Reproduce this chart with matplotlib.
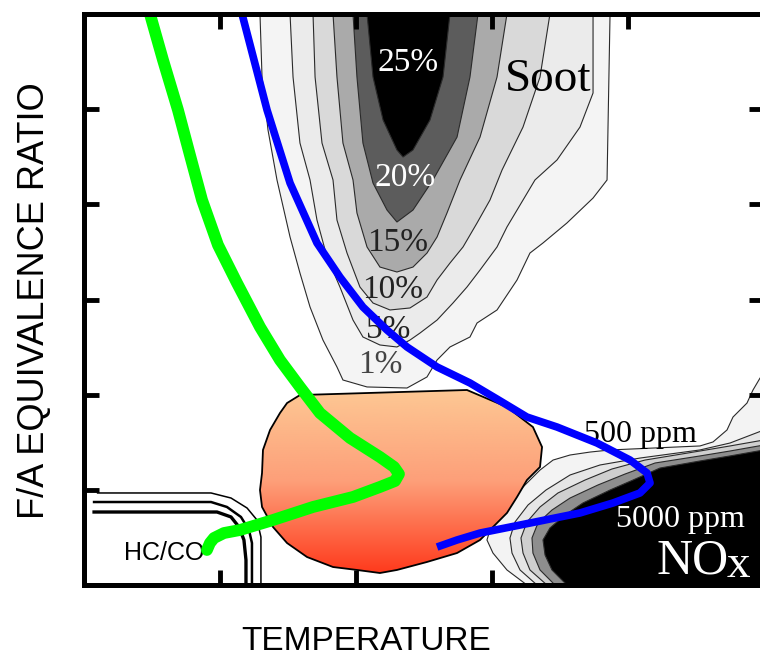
import numpy as np
import matplotlib.pyplot as plt
from matplotlib.colors import LinearSegmentedColormap
from matplotlib.patches import Polygon

# axis units: temperature 0..5, equivalence ratio 0..6 (arbitrary, no tick labels)
x_ticks = [1, 2, 3, 4]
y_ticks = [1, 2, 3, 4, 5]

# soot contours, outer (1%) to inner (25%)
soot_labels = ['1%', '5%', '10%', '15%', '20%', '25%']
soot_colors = ['#f4f4f4', '#ebebeb', '#d9d9d9', '#aaaaaa', '#5c5c5c', '#000000']
soot_x = [
    [1.294, 1.309, 1.353, 1.419, 1.515, 1.588, 1.662, 1.757, 1.860, 1.904, 2.081, 2.375,
     2.522, 2.596, 2.691, 2.838, 2.890, 3.037, 3.184, 3.279, 3.375, 3.551, 3.743, 3.846, 3.868],
    [1.515, 1.537, 1.588, 1.662, 1.713, 1.787, 1.882, 1.978, 2.051, 2.176, 2.301,
     2.397, 2.471, 2.596, 2.713, 2.816, 2.912, 3.037, 3.110, 3.228, 3.316, 3.478, 3.647, 3.743, 3.743],
    [1.684, 1.699, 1.750, 1.831, 1.860, 1.934, 2.029, 2.125, 2.250,
     2.397, 2.522, 2.596, 2.691, 2.787, 2.890, 2.985, 3.074, 3.228, 3.353, 3.426],
    [1.831, 1.860, 1.904, 1.978, 2.007, 2.081, 2.176, 2.301,
     2.419, 2.522, 2.596, 2.669, 2.765, 2.912, 3.037, 3.110],
    [1.978, 2.007, 2.051, 2.125, 2.228, 2.301, 2.419, 2.566, 2.743, 2.838, 2.897],
    [2.081, 2.125, 2.199, 2.301, 2.346, 2.419, 2.544, 2.640, 2.691],
]
soot_y = [
    [6.0, 5.338, 4.781, 4.256, 3.657, 3.278, 2.921, 2.574, 2.291, 2.154, 2.081, 2.070,
     2.186, 2.364, 2.501, 2.606, 2.753, 2.890, 3.205, 3.488, 3.594, 3.804, 4.066, 4.256, 6.0],
    [6.0, 5.338, 4.644, 4.256, 3.835, 3.446, 3.131, 2.784, 2.606, 2.522, 2.501,
     2.574, 2.648, 2.784, 2.963, 3.131, 3.310, 3.552, 3.762, 4.045, 4.256, 4.466, 4.812, 5.170, 6.0],
    [6.0, 5.338, 4.644, 4.256, 3.835, 3.488, 3.131, 2.963, 2.890,
     2.911, 3.026, 3.205, 3.383, 3.552, 3.804, 4.045, 4.361, 4.812, 5.338, 6.0],
    [6.0, 5.338, 4.644, 4.256, 3.909, 3.552, 3.341, 3.289,
     3.341, 3.488, 3.657, 3.909, 4.256, 4.707, 5.338, 6.0],
    [6.0, 5.338, 4.644, 4.224, 3.940, 3.814, 3.940, 4.256, 4.707, 5.338, 6.0],
    [6.0, 5.338, 4.886, 4.571, 4.497, 4.571, 4.886, 5.338, 6.0],
]
soot_label_x = [2.176, 2.235, 2.272, 2.309, 2.360, 2.382]
soot_label_y = [2.312, 2.679, 3.100, 3.594, 4.277, 5.485]
soot_label_colors = ['#444444', '#222222', '#222222', '#222222', 'white', 'white']

# NOx contours, outer (500 ppm) to inner (5000 ppm)
nox_colors = ['#f3f3f3', '#e6e6e6', '#cfcfcf', '#8e8e8e', '#000000']
nox_x = [
    [3.257, 3.110, 3.007, 2.963, 3.007, 3.110, 3.228, 3.353, 3.449, 3.574, 3.721, 3.868,
     4.529, 4.625, 4.728, 4.772, 4.875, 4.919, 4.971, 5.0, 5.0],
    [3.331, 3.206, 3.147, 3.132, 3.169, 3.265, 3.397, 3.574, 3.794, 4.088, 4.529, 4.750, 5.0, 5.0],
    [3.404, 3.279, 3.228, 3.213, 3.257, 3.353, 3.485, 3.684, 3.882, 4.125, 4.529, 4.750, 5.0, 5.0],
    [3.463, 3.353, 3.301, 3.294, 3.338, 3.441, 3.574, 3.779, 3.978, 4.199, 4.529, 4.750, 5.0, 5.0],
    [3.551, 3.441, 3.390, 3.375, 3.426, 3.537, 3.669, 3.868, 4.037, 4.235, 4.529, 4.750, 5.0, 5.0],
]
nox_y = [
    [0.0, 0.158, 0.336, 0.473, 0.683, 0.820, 1.030, 1.208, 1.313, 1.366, 1.397, 1.419,
     1.461, 1.503, 1.629, 1.765, 1.912, 2.049, 2.175, 2.207, 0.0],
    [0.0, 0.158, 0.336, 0.494, 0.662, 0.841, 0.998, 1.156, 1.261, 1.334, 1.419, 1.492, 1.629, 0.0],
    [0.0, 0.158, 0.336, 0.494, 0.662, 0.820, 0.967, 1.103, 1.219, 1.313, 1.408, 1.461, 1.524, 0.0],
    [0.0, 0.158, 0.336, 0.494, 0.651, 0.788, 0.914, 1.051, 1.166, 1.282, 1.356, 1.408, 1.471, 0.0],
    [0.0, 0.158, 0.315, 0.473, 0.599, 0.735, 0.862, 0.998, 1.103, 1.229, 1.303, 1.356, 1.419, 0.0],
]

# low-emission zone
blob_x = [1.588, 2.816, 3.110, 3.301, 3.368, 3.353, 3.257, 3.184, 3.110, 3.007, 2.912, 2.743, 2.522,
          2.301, 2.176, 2.007, 1.831, 1.640, 1.493, 1.390, 1.309, 1.294, 1.309, 1.316, 1.368, 1.441, 1.493]
blob_y = [1.996, 2.049, 1.870, 1.660, 1.450, 1.240, 1.103, 0.925, 0.757, 0.609, 0.473, 0.336, 0.242,
          0.158, 0.126, 0.158, 0.189, 0.294, 0.441, 0.609, 0.820, 0.998, 1.177, 1.419, 1.629, 1.807, 1.912]

# combustion paths
green_x = [0.465, 0.485, 0.581, 0.691, 0.779, 0.868, 0.985, 1.125, 1.294, 1.441, 1.588, 1.735,
           1.956, 2.176, 2.280, 2.316, 2.287, 2.176, 1.978, 1.684, 1.390, 1.147, 1.029, 0.956,
           0.926, 0.904]
green_y = [6.1, 6.0, 5.516, 4.991, 4.518, 4.045, 3.573, 3.173, 2.711, 2.364, 2.081, 1.807,
           1.545, 1.345, 1.240, 1.166, 1.093, 1.030, 0.925, 0.820, 0.683, 0.578, 0.546, 0.494,
           0.441, 0.368]
blue_x = [1.145, 1.162, 1.346, 1.515, 1.713, 1.882, 2.051, 2.228, 2.375, 2.596, 2.838, 3.037, 3.257,
          3.478, 3.772, 4.015, 4.140, 4.162, 4.088, 3.890, 3.647, 3.279, 2.912, 2.743, 2.596]
blue_y = [6.1, 6.0, 4.991, 4.224, 3.594, 3.236, 2.921, 2.679, 2.501, 2.291, 2.123, 1.954, 1.765,
          1.660, 1.492, 1.313, 1.177, 1.072, 0.967, 0.862, 0.757, 0.651, 0.546, 0.473, 0.399]

# HC/CO boundary lines
hc_x = [
    [0.10, 0.934, 1.081, 1.199, 1.272, 1.301, 1.301],
    [0.074, 0.934, 1.051, 1.154, 1.213, 1.235, 1.235],
    [0.074, 0.978, 1.081, 1.140, 1.176, 1.191, 1.191],
]
hc_y = [
    [0.967, 0.967, 0.914, 0.809, 0.683, 0.504, 0.0],
    [0.872, 0.872, 0.820, 0.715, 0.578, 0.441, 0.0],
    [0.767, 0.767, 0.715, 0.609, 0.473, 0.263, 0.0],
]
hc_widths = [1.1, 1.8, 2.4]

serif = ['Liberation Serif', 'DejaVu Serif']
sans = ['Liberation Sans', 'DejaVu Sans']

fig = plt.figure(figsize=(7.6, 6.58), dpi=100)
ax = fig.add_axes([84 / 760, 73 / 658, 680 / 760, 571 / 658])

for xs, ys, c in zip(soot_x, soot_y, soot_colors):
    ax.fill(xs, ys, facecolor=c, edgecolor='#2a2a2a', lw=0.8, zorder=1)
for xs, ys, c in zip(nox_x, nox_y, nox_colors):
    ax.fill(xs, ys, facecolor=c, edgecolor='#2a2a2a', lw=0.8, zorder=1)

for lab, lx, ly, c in zip(soot_labels, soot_label_x, soot_label_y, soot_label_colors):
    ax.text(lx, ly, lab, color=c, fontsize=24, family=serif, ha='center', va='center', zorder=2)
ax.text(3.412, 5.306, 'Soot', fontsize=34, family=serif, ha='center', va='center', zorder=2)
ax.text(4.088, 1.503, '500 ppm', fontsize=23, family=serif, ha='center', va='baseline', zorder=2)
ax.text(4.382, 0.609, '5000 ppm', color='white', fontsize=23, family=serif,
        ha='center', va='baseline', zorder=2)
ax.text(4.478, 0.126, 'NO', color='white', fontsize=36, family=serif,
        ha='center', va='baseline', zorder=2)
ax.text(4.728, 0.084, 'x', color='white', fontsize=34, family=serif,
        ha='left', va='baseline', zorder=2)

for xs, ys, w in zip(hc_x, hc_y, hc_widths):
    ax.plot(xs, ys, color='black', lw=w, zorder=2, solid_joinstyle='round')
ax.text(0.294, 0.336, 'HC/CO', fontsize=18, family=sans, ha='left', va='center', zorder=2)

# gradient filled blob
cmap = LinearSegmentedColormap.from_list('heat', ['#ff3a1c', '#fd9f79', '#fdc894'])
blob = Polygon(np.column_stack([blob_x, blob_y]), closed=True, facecolor='none',
               edgecolor='black', lw=1.3, zorder=4)
ax.add_patch(blob)
grad = np.linspace(0, 1, 256).reshape(-1, 1)
im = ax.imshow(grad, cmap=cmap, origin='lower', aspect='auto', zorder=3,
               extent=[min(blob_x), max(blob_x), min(blob_y), max(blob_y)])
im.set_clip_path(blob)

ax.plot(green_x, green_y, color='#00ff00', lw=8.5, solid_capstyle='round',
        solid_joinstyle='round', zorder=5)
ax.plot(blue_x, blue_y, color='#0000ff', lw=5.5, solid_capstyle='butt',
        solid_joinstyle='round', zorder=5)

ax.set_xlim(0, 5)
ax.set_ylim(0, 6)
ax.set_xticks(x_ticks)
ax.set_yticks(y_ticks)
ax.tick_params(direction='in', length=11, width=3.5, top=True, right=True,
               labelbottom=False, labelleft=False)
for s in ax.spines.values():
    s.set_linewidth(3.6)
    s.set_zorder(6)

fig.text(35 / 760, 1 - 301 / 658, 'F/A EQUIVALENCE RATIO', rotation=90, fontsize=26,
         family=sans, ha='center', va='center')
fig.text(366 / 760, 0.002, 'TEMPERATURE', fontsize=24, family=sans,
         ha='center', va='bottom')

fig.savefig('out.png', dpi=100)
